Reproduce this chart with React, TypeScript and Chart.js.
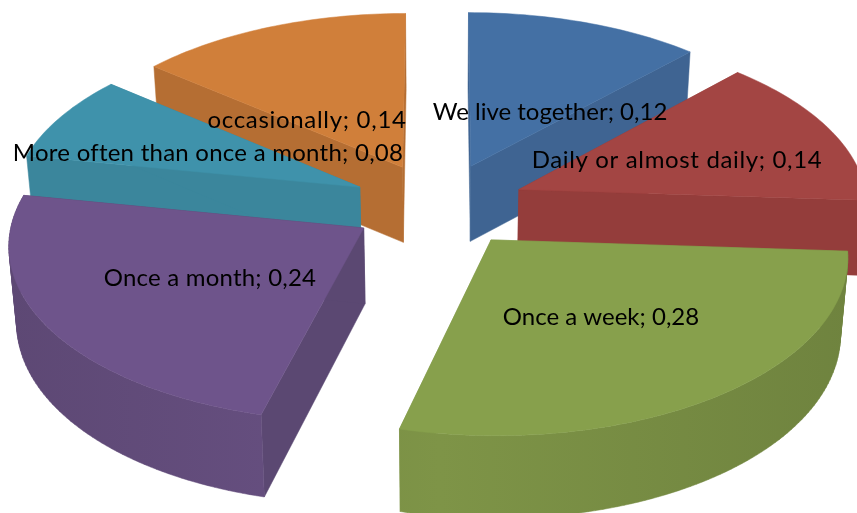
import React, { useEffect, useRef } from "react";
import { Chart, registerables } from "chart.js";

Chart.register(...registerables);

const categories = [
  "We live together",
  "Daily or almost daily",
  "Once a week",
  "Once a month",
  "More often than once a month",
  "occasionally",
];
const values = [0.12, 0.14, 0.28, 0.24, 0.08, 0.14];
const topColors = ["#4470A4", "#A34543", "#87A04C", "#6E548B", "#3F92AB", "#D07F3A"];
const cutColors = ["#3F6492", "#943D3B", "#7E9447", "#5B4872", "#3B869C", "#B56E33"];
const rimColors = [
  [63, 100, 146],
  [148, 61, 59],
  [126, 148, 71],
  [106, 82, 133],
  [59, 134, 156],
  [181, 110, 51],
];
const paintOrder = [5, 0, 4, 1, 3, 2];
const labelCentres = [
  [550, 112],
  [677, 160],
  [601, 317],
  [210, 278],
  [208, 153],
  [307, 120],
];
const labelSpacing = [0, 0.65, 0, 0.2, 0.25, 0.7];

const view = {
  cx: 440,
  cy: 205,
  rx: 349,
  ry: 173,
  persp: 0.0847,
  explodeRight: 0.245,
  explodeLeft: 0.256,
  explodeDepth: 0.245,
  depthBack: 75,
  depthFront: 6.5,
  lowerScale: 0.982,
};

type P = [number, number];

function project(u: number, v: number, down: boolean): P {
  const s = 1 / (1 + view.persp * v);
  let x = view.rx * u * s;
  let y = view.cy - view.ry * v * s;
  if (down) {
    x *= view.lowerScale;
    y += view.depthBack + view.depthFront * Math.max(0, -v);
  }
  return [view.cx + x, y];
}

function traceFill(ctx: CanvasRenderingContext2D, polys: P[][], color: any) {
  ctx.beginPath();
  polys.forEach((pts) => {
    let area = 0;
    pts.forEach((p, i) => {
      const q = pts[(i + 1) % pts.length];
      area += p[0] * q[1] - q[0] * p[1];
    });
    const ordered = area < 0 ? [...pts].reverse() : pts;
    ordered.forEach((p, i) => (i ? ctx.lineTo(p[0], p[1]) : ctx.moveTo(p[0], p[1])));
    ctx.closePath();
  });
  ctx.fillStyle = color;
  ctx.strokeStyle = color;
  ctx.lineWidth = 0.5;
  ctx.fill();
  ctx.stroke();
}

function shade(rgb: number[], f: number) {
  return `rgb(${Math.round(rgb[0] * f)},${Math.round(rgb[1] * f)},${Math.round(rgb[2] * f)})`;
}

const pie3d = {
  id: "pie3d",
  beforeDatasetsDraw(chart: any) {
    const ctx: CanvasRenderingContext2D = chart.ctx;
    const arcs = chart.getDatasetMeta(0).data;
    ctx.save();
    paintOrder.forEach((i) => {
      const arc = arcs[i];
      const a0 = arc.startAngle + Math.PI / 2;
      const a1 = arc.endAngle + Math.PI / 2;
      const mid = (a0 + a1) / 2;
      const sm = Math.sin(mid);
      const ax = (sm < 0 ? view.explodeLeft : view.explodeRight) * sm;
      const av = view.explodeDepth * Math.cos(mid);
      const steps = Math.max(4, Math.round((a1 - a0) / 0.02));
      const rim: [number, number][] = [];
      for (let k = 0; k <= steps; k++) {
        const a = a0 + ((a1 - a0) * k) / steps;
        rim.push([ax + Math.sin(a), av + Math.cos(a)]);
      }
      const first = rim[0];
      const last = rim[rim.length - 1];
      traceFill(ctx, [[project(ax, av, false), project(first[0], first[1], false), project(first[0], first[1], true), project(ax, av, true)]], cutColors[i]);
      traceFill(ctx, [[project(ax, av, false), project(last[0], last[1], false), project(last[0], last[1], true), project(ax, av, true)]], cutColors[i]);
      const left = view.cx - view.rx * 1.25;
      const right = view.cx + view.rx * 1.25;
      const g = ctx.createLinearGradient(left, 0, right, 0);
      g.addColorStop(0, shade(rimColors[i], 0.875));
      g.addColorStop(0.5, shade(rimColors[i], 1));
      g.addColorStop(1, shade(rimColors[i], 0.875));
      const quads: P[][] = [];
      for (let k = 0; k < rim.length - 1; k++) {
        const [u0, v0] = rim[k];
        const [u1, v1] = rim[k + 1];
        if (v0 > 0.1 && v1 > 0.1) continue;
        quads.push([project(u0, v0, false), project(u1, v1, false), project(u1, v1, true), project(u0, v0, true)]);
      }
      if (quads.length) traceFill(ctx, quads, g);
      const top: P[] = [project(ax, av, false), ...rim.map(([u, v]) => project(u, v, false))];
      traceFill(ctx, [top], arc.options.backgroundColor);
    });
    ctx.fillStyle = "#000000";
    ctx.font = '24px Lato, "Noto Sans", sans-serif';
    ctx.textAlign = "center";
    ctx.textBaseline = "middle";
    categories.forEach((c, i) => {
      const text = `${c}; ${values[i].toFixed(2).replace(".", ",")}`;
      (ctx as any).letterSpacing = `${labelSpacing[i]}px`;
      ctx.fillText(text, labelCentres[i][0], labelCentres[i][1]);
    });
    ctx.restore();
    return false;
  },
};

export default function App() {
  const ref = useRef<HTMLCanvasElement>(null);
  useEffect(() => {
    const chart = new Chart(ref.current as HTMLCanvasElement, {
      type: "pie",
      data: {
        labels: categories,
        datasets: [{ data: values, backgroundColor: topColors, borderWidth: 0 }],
      },
      options: {
        responsive: false,
        animation: false,
        layout: { padding: 0 },
        plugins: { legend: { display: false }, tooltip: { enabled: false } },
      },
      plugins: [pie3d as any],
    });
    return () => chart.destroy();
  }, []);
  return (
    <div style={{ position: "absolute", left: 0, top: 0, width: 857, height: 513, background: "#fff", overflow: "hidden" }}>
      <canvas ref={ref} width={857} height={513} style={{ display: "block" }} />
    </div>
  );
}
